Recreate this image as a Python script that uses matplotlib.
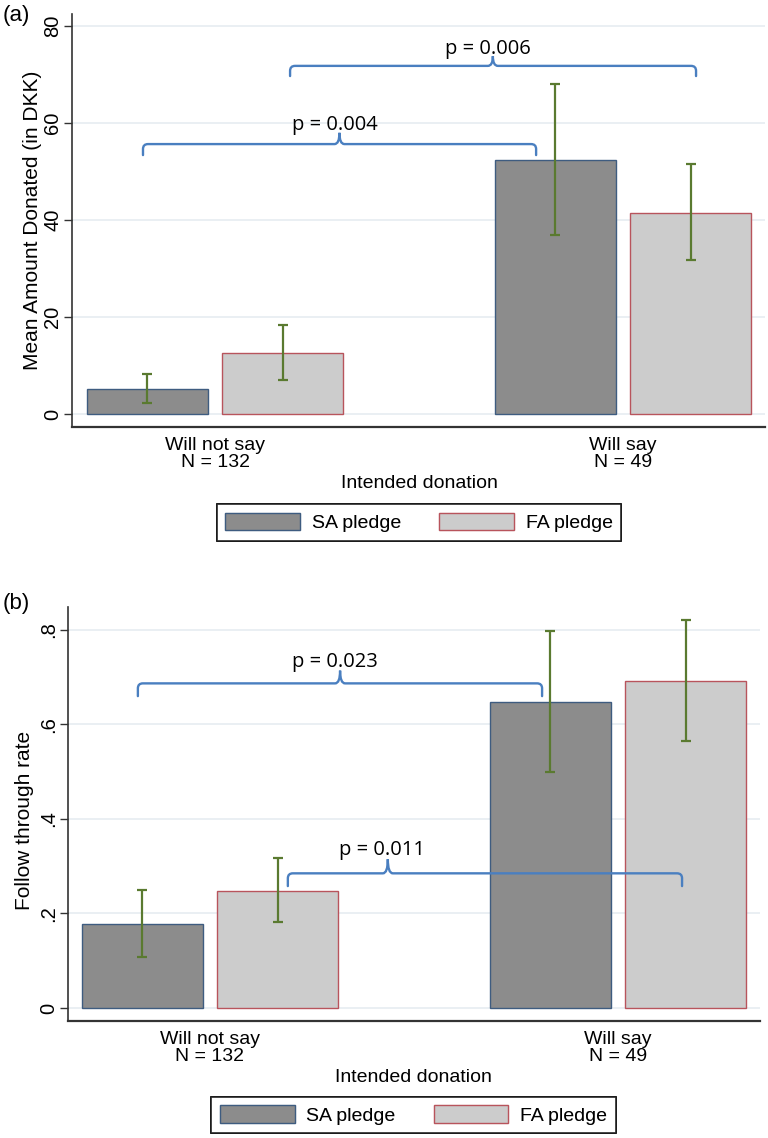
import matplotlib
matplotlib.use("Agg")
import matplotlib.pyplot as plt
from matplotlib.path import Path
from matplotlib.patches import PathPatch, Patch

plt.rcParams['font.family'] = ['Liberation Sans', 'DejaVu Sans']

# ---------------- data ----------------
groups = ["Will not say", "Will say"]
group_n = [132, 49]
series = ["SA pledge", "FA pledge"]

amount_sa = [5.15, 52.4]
amount_sa_lo = [2.3, 36.9]
amount_sa_hi = [8.25, 68.0]
amount_fa = [12.6, 41.5]
amount_fa_lo = [7.0, 31.8]
amount_fa_hi = [18.35, 51.5]

rate_sa = [0.178, 0.648]
rate_sa_lo = [0.108, 0.4995]
rate_sa_hi = [0.249, 0.7985]
rate_fa = [0.247, 0.693]
rate_fa_lo = [0.181, 0.566]
rate_fa_hi = [0.317, 0.821]

amount_ticks = [0, 20, 40, 60, 80]
amount_ticklabels = ["0", "20", "40", "60", "80"]
rate_ticks = [0, 0.2, 0.4, 0.6, 0.8]
rate_ticklabels = ["0", ".2", ".4", ".6", ".8"]

p_amount = ["p = 0.004", "p = 0.006"]
p_rate = ["p = 0.023", "p = 0.011"]

# ---------------- style / layout ----------------
SA_FACE, SA_EDGE = "#8c8c8c", "#3e5c80"
FA_FACE, FA_EDGE = "#cccccc", "#b8545c"
ERR_COLOR = "#5a7a30"
BRACKET_COLOR = "#4a7fc0"
GRID_COLOR = "#e8eef2"
SPINE_COLOR = "#333333"
PFONT = ['Open Sans', 'DejaVu Sans']

BAR_W = 0.297
OFFSET = 0.166

# bracket layout: (x0, x1, xtip, y_h, y_end, y_tip, text_x, text_y)
amount_brackets = [
    (-0.1765, 0.787, 0.305, 55.67, 53.4, 58.0, 0.293, 59.6),
    (0.184, 1.179, 0.681, 71.8, 69.7, 73.8, 0.669, 75.2),
]
rate_brackets = [
    (-0.1765, 0.814, 0.319, 0.687, 0.660, 0.714, 0.306, 0.732),
    (0.191, 1.157, 0.436, 0.285, 0.258, 0.315, 0.422, 0.334),
]

fig = plt.figure(figsize=(7.68, 11.38), dpi=100)

def px_w(x):
    return x / 768.0

def px_h(y):
    return y / 1138.0

ax_a = fig.add_axes([px_w(72), 1 - px_h(427), px_w(765 - 72), px_h(427 - 14)])
ax_b = fig.add_axes([px_w(68.3), 1 - px_h(1021), px_w(760 - 68.3), px_h(1021 - 607.3)])


def draw_bracket(ax, x0, x1, xt, yh, yend, ytip, lw=1.7):
    trans = ax.transData
    sx = trans.transform((1, 0))[0] - trans.transform((0, 0))[0]
    sy = trans.transform((0, 1))[1] - trans.transform((0, 0))[1]
    rx = 5.0 / sx
    ry = 5.0 / sy
    verts = [
        (x0, yend), (x0, yh - ry),
        (x0, yh), (x0 + rx, yh),
        (xt - rx, yh),
        (xt, yh), (xt, ytip),
        (xt, yh), (xt + rx, yh),
        (x1 - rx, yh),
        (x1, yh), (x1, yh - ry),
        (x1, yend),
    ]
    codes = [Path.MOVETO, Path.LINETO,
             Path.CURVE3, Path.CURVE3,
             Path.LINETO,
             Path.CURVE3, Path.CURVE3,
             Path.CURVE3, Path.CURVE3,
             Path.LINETO,
             Path.CURVE3, Path.CURVE3,
             Path.LINETO]
    ax.add_patch(PathPatch(Path(verts, codes), facecolor='none',
                           edgecolor=BRACKET_COLOR, lw=lw, capstyle='round',
                           zorder=5))


def panel(ax, sa, sa_lo, sa_hi, fa, fa_lo, fa_hi, ticks, ticklabels,
          ylim, xlim, ylabel, ylabel_x, ylabel_y, brackets, ptexts):
    x = list(range(len(groups)))
    xs = [v - OFFSET for v in x]
    xf = [v + OFFSET for v in x]
    ax.bar(xs, sa, width=BAR_W, color=SA_FACE, edgecolor=SA_EDGE, linewidth=1.0, zorder=2)
    ax.bar(xf, fa, width=BAR_W, color=FA_FACE, edgecolor=FA_EDGE, linewidth=1.0, zorder=2)
    ax.errorbar(xs, sa, yerr=[[s - l for s, l in zip(sa, sa_lo)], [h - s for s, h in zip(sa, sa_hi)]],
                fmt='none', ecolor=ERR_COLOR, elinewidth=1.6, capsize=3.3, capthick=1.6, zorder=3)
    ax.errorbar(xf, fa, yerr=[[s - l for s, l in zip(fa, fa_lo)], [h - s for s, h in zip(fa, fa_hi)]],
                fmt='none', ecolor=ERR_COLOR, elinewidth=1.6, capsize=3.3, capthick=1.6, zorder=3)
    ax.set_xlim(*xlim)
    ax.set_ylim(*ylim)
    ax.set_yticks(ticks)
    ax.set_yticklabels(ticklabels, rotation=90, va='center', fontsize=14.5)
    ax.set_xticks(x)
    ax.set_xticklabels([f"{g}\nN = {n}" for g, n in zip(groups, group_n)],
                       fontsize=14, linespacing=1.05)
    ax.tick_params(axis='x', length=0, pad=7)
    ax.tick_params(axis='y', length=6, width=1.0, color=SPINE_COLOR, pad=1)
    for s in ['top', 'right']:
        ax.spines[s].set_visible(False)
    ax.spines['left'].set_color(SPINE_COLOR)
    ax.spines['left'].set_linewidth(1.2)
    ax.spines['bottom'].set_color(SPINE_COLOR)
    ax.spines['bottom'].set_linewidth(1.6)
    ax.set_axisbelow(True)
    ax.yaxis.grid(True, color=GRID_COLOR, linewidth=1.3, zorder=0)
    ax.set_ylabel(ylabel, fontsize=15, va='center')
    ax.yaxis.set_label_coords(ylabel_x, ylabel_y)
    ax.set_xlabel("Intended donation", fontsize=14, va='center')
    for (x0, x1, xt, yh, yend, ytip, tx, ty), pt in zip(brackets, ptexts):
        draw_bracket(ax, x0, x1, xt, yh, yend, ytip)
        ax.text(tx, ty, pt, ha='center', va='center', fontsize=14.5, family=PFONT, zorder=6)


panel(ax_a, amount_sa, amount_sa_lo, amount_sa_hi, amount_fa, amount_fa_lo, amount_fa_hi,
      amount_ticks, amount_ticklabels, (-2.68, 82.5), (-0.3505, 1.348),
      "Mean Amount Donated (in DKK)", -0.0576, 0.5, amount_brackets, p_amount)
ax_a.xaxis.set_label_coords(0.501, -0.138)

panel(ax_b, rate_sa, rate_sa_lo, rate_sa_hi, rate_fa, rate_fa_lo, rate_fa_hi,
      rate_ticks, rate_ticklabels, (-0.0275, 0.848), (-0.347, 1.348),
      "Follow through rate", -0.063, 0.484, rate_brackets, p_rate)
ax_b.xaxis.set_label_coords(0.4993, -0.137)

handles = [Patch(facecolor=SA_FACE, edgecolor=SA_EDGE, linewidth=1.0),
           Patch(facecolor=FA_FACE, edgecolor=FA_EDGE, linewidth=1.0)]
for cx, cy in [(419 / 768, 1 - 522.5 / 1138), (413.5 / 768, 1 - 1115 / 1138)]:
    leg = fig.legend(handles, series, loc='center', bbox_to_anchor=(cx, cy), ncol=2,
                     frameon=True, fancybox=False, edgecolor='black', fontsize=14,
                     handlelength=3.85, handleheight=1.0, handletextpad=0.6,
                     columnspacing=1.95, borderpad=0.45)
    leg.get_frame().set_linewidth(1.2)
    fig.add_artist(leg)

fig.text(3 / 768, 1 - 16 / 1138, "(a)", fontsize=16, ha='left', va='center')
fig.text(3 / 768, 1 - 603 / 1138, "(b)", fontsize=16, ha='left', va='center')

fig.savefig("out.png", dpi=100)
